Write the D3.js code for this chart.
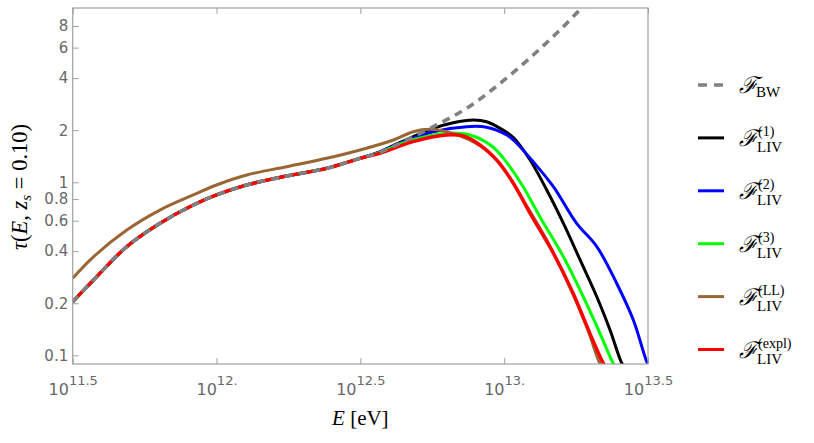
<!DOCTYPE html>
<html>
<head>
<meta charset="utf-8">
<script src="https://cdn.jsdelivr.net/npm/d3@7"></script>
<style>
  html, body { margin: 0; padding: 0; background: #fff; }
  svg { display: block; }
</style>
</head>
<body>
<svg id="chart" width="814" height="443"></svg>
<script>
// ---------------- data ----------------
// log10(E/eV) exponents and optical depth tau
const xTickExps   = [11.5, 12, 12.5, 13, 13.5];
const xTickLabels = ["11.5", "12.", "12.5", "13.", "13.5"];
const yTickValues = [0.1, 0.2, 0.4, 0.6, 0.8, 1, 2, 4, 6, 8];
const yTickLabels = ["0.1", "0.2", "0.4", "0.6", "0.8", "1", "2", "4", "6", "8"];

// common low-energy part (all curves except LL coincide here)
const baseLogE = [11.5, 11.572, 11.688, 11.803, 11.919, 12.0, 12.105, 12.244, 12.383, 12.499];
const baseTau  = [0.204, 0.272, 0.425, 0.579, 0.739, 0.845, 0.965, 1.087, 1.205, 1.376];

const bwLogE = [12.568, 12.638, 12.754, 12.870, 12.986, 13.101, 13.194, 13.263, 13.29];
const bwTau  = [1.49, 1.68, 2.10, 2.68, 3.73, 5.44, 7.59, 9.91, 10.8];

const liv1LogE = [12.568, 12.638, 12.754, 12.823, 12.893, 12.939, 12.986, 13.032, 13.090, 13.148, 13.206, 13.264, 13.322, 13.368, 13.409, 13.42];
const liv1Tau  = [1.50, 1.70, 2.05, 2.21, 2.29, 2.24, 2.05, 1.815, 1.345, 0.903, 0.579, 0.356, 0.218, 0.140, 0.0899, 0.085];

const liv2LogE = [12.568, 12.638, 12.754, 12.870, 12.939, 13.009, 13.032, 13.101, 13.171, 13.252, 13.322, 13.391, 13.449, 13.496, 13.505];
const liv2Tau  = [1.50, 1.68, 1.96, 2.097, 2.08, 1.877, 1.756, 1.315, 0.943, 0.579, 0.425, 0.261, 0.160, 0.0915, 0.086];

const liv3LogE = [12.568, 12.638, 12.683, 12.800, 12.881, 12.960, 13.009, 13.066, 13.124, 13.206, 13.275, 13.333, 13.379, 13.39];
const liv3Tau  = [1.49, 1.66, 1.76, 1.92, 1.877, 1.606, 1.30, 0.943, 0.633, 0.371, 0.218, 0.134, 0.0899, 0.085];

const livLLLogE = [11.5, 11.572, 11.688, 11.803, 11.919, 12.0, 12.105, 12.244, 12.383, 12.499, 12.615, 12.684, 12.742, 12.800, 12.880, 12.951, 13.009, 13.066, 13.148, 13.217, 13.287, 13.333, 13.345];
const livLLTau  = [0.279, 0.371, 0.530, 0.691, 0.845, 0.965, 1.102, 1.231, 1.376, 1.537, 1.756, 1.961, 2.025, 1.96, 1.756, 1.471, 1.127, 0.790, 0.464, 0.272, 0.146, 0.0899, 0.085];

const livExLogE = [12.568, 12.683, 12.800, 12.858, 12.916, 12.974, 13.032, 13.090, 13.171, 13.240, 13.298, 13.345, 13.355];
const livExTau  = [1.47, 1.717, 1.877, 1.852, 1.643, 1.346, 0.987, 0.662, 0.389, 0.228, 0.134, 0.0899, 0.085];

const seriesNames = ["BW", "1", "2", "3", "LL", "expl"];
const seriesColors = ["#808080", "#000000", "#0000ff", "#00ff00", "#996633", "#ff0000"];

// ---------------- layout ----------------
const L = 72.7, R = 648, T = 8, B = 364;
const frameColor = "#a0a0a0", labelColor = "#686868";

const svg = d3.select("#chart");
const x = d3.scaleLog().domain([Math.pow(10, 11.5), Math.pow(10, 13.5)]).range([L, R]);
const y = d3.scaleLog().domain([0.0891, 10.17]).range([B, T]);

function zip(le, t) { return le.map((v, i) => ({ E: Math.pow(10, v), tau: t[i] })); }

const data = {
  "BW":   zip(baseLogE.concat(bwLogE), baseTau.concat(bwTau)),
  "1":    zip(baseLogE.concat(liv1LogE), baseTau.concat(liv1Tau)),
  "2":    zip(baseLogE.concat(liv2LogE), baseTau.concat(liv2Tau)),
  "3":    zip(baseLogE.concat(liv3LogE), baseTau.concat(liv3Tau)),
  "LL":   zip(livLLLogE, livLLTau),
  "expl": zip(baseLogE.concat(livExLogE), baseTau.concat(livExTau))
};

svg.append("defs").append("clipPath").attr("id", "clip")
  .append("rect").attr("x", L).attr("y", T).attr("width", R - L).attr("height", B - T);

const line = d3.line().x(d => x(d.E)).y(d => y(d.tau)).curve(d3.curveCatmullRom.alpha(0.5));

const plot = svg.append("g").attr("clip-path", "url(#clip)");
// drawing order: solids first, dashed BW on top
const order = ["1", "2", "3", "LL", "expl", "BW"];
order.forEach(name => {
  const i = seriesNames.indexOf(name);
  plot.append("path")
    .datum(data[name])
    .attr("fill", "none")
    .attr("stroke", seriesColors[i])
    .attr("stroke-width", name === "BW" ? 3.6 : (name === "expl" ? 3.4 : 3))
    .attr("stroke-dasharray", name === "BW" ? "8,6" : null)
    .attr("stroke-linejoin", "round")
    .attr("d", line);
});

// ---------------- axes ----------------
const yAxis = d3.axisLeft(y).tickValues(yTickValues).tickSize(-6).tickPadding(4.5)
  .tickFormat((d, i) => yTickLabels[i]);
const gy = svg.append("g").attr("transform", `translate(${L},0)`).call(yAxis);
gy.select(".domain").remove();
gy.selectAll(".tick line").attr("stroke", frameColor);
gy.selectAll(".tick text").attr("fill", labelColor)
  .style("font-family", "'DejaVu Sans', sans-serif").style("font-size", "15px");

const xTickVals = xTickExps.map(e => Math.pow(10, e));
const xAxis = d3.axisBottom(x).tickValues(xTickVals).tickSize(-6).tickFormat("");
const gx = svg.append("g").attr("transform", `translate(0,${B})`).call(xAxis);
gx.select(".domain").remove();
gx.selectAll(".tick line").attr("stroke", frameColor);
gx.selectAll(".tick").each(function (d, i) {
  const t = d3.select(this).append("text")
    .attr("y", 31).attr("text-anchor", "middle").attr("fill", labelColor)
    .style("font-family", "'DejaVu Sans', sans-serif");
  t.append("tspan").style("font-size", "16px").text("10");
  t.append("tspan").attr("dy", -10).style("font-size", "13px").text(xTickLabels[i]);
});

const xTop = d3.axisTop(x).tickValues(xTickVals).tickSize(-6).tickFormat("");
const gt = svg.append("g").attr("transform", `translate(0,${T})`).call(xTop);
gt.select(".domain").remove();
gt.selectAll(".tick line").attr("stroke", frameColor);

svg.append("rect").attr("x", L).attr("y", T).attr("width", R - L).attr("height", B - T)
  .attr("fill", "none").attr("stroke", frameColor).attr("stroke-width", 1.2);

// ---------------- axis titles ----------------
const serif = "'Liberation Serif', 'DejaVu Serif', serif";
const xt = svg.append("text").attr("x", (L + R) / 2).attr("y", 425).attr("text-anchor", "middle")
  .style("font-family", serif).style("font-size", "21px").attr("fill", "#000");
xt.append("tspan").style("font-style", "italic").text("E");
xt.append("tspan").text(" [eV]");

const yt = svg.append("text").attr("transform", "translate(27,187) rotate(-90)").attr("text-anchor", "middle")
  .style("font-family", serif).style("font-size", "22.5px").attr("fill", "#000");
yt.append("tspan").style("font-style", "italic").text("τ");
yt.append("tspan").text("(");
yt.append("tspan").style("font-style", "italic").text("E");
yt.append("tspan").text(", ");
yt.append("tspan").style("font-style", "italic").text("z");
yt.append("tspan").attr("dy", 4).style("font-size", "15px").style("font-style", "italic").text("s");
yt.append("tspan").attr("dy", -4).text(" = 0.10)");

// ---------------- legend ----------------
const legY0 = 85, legDy = 52.9;
seriesNames.forEach((name, i) => {
  const cy = legY0 + i * legDy;
  const g = svg.append("g");
  g.append("line").attr("x1", 698).attr("x2", 724).attr("y1", cy).attr("y2", cy)
    .attr("stroke", seriesColors[i]).attr("stroke-width", name === "BW" ? 3.4 : 3)
    .attr("stroke-dasharray", name === "BW" ? "9,7" : null);
  g.append("text").attr("x", 739).attr("y", cy + 8)
    .style("font-family", serif).style("font-size", "23px").style("font-style", "italic")
    .text("ℱ");
  if (name === "BW") {
    g.append("text").attr("x", 756).attr("y", cy + 12)
      .style("font-family", serif).style("font-size", "15px").text("BW");
  } else {
    g.append("text").attr("x", 757).attr("y", cy + 14)
      .style("font-family", serif).style("font-size", "15px").text("LIV");
    g.append("text").attr("x", 758).attr("y", cy - 1.5)
      .style("font-family", serif).style("font-size", "14px").text("(" + name + ")");
  }
});
</script>
</body>
</html>
